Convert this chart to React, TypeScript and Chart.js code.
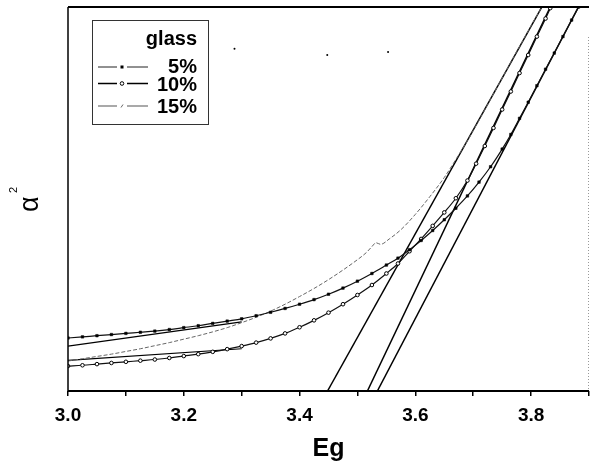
import { useEffect, useRef } from 'react';
import { Chart, registerables } from 'chart.js';

Chart.register(...registerables);

const FONT = "'Liberation Sans', Arial, sans-serif";

// x axis (Eg) tick labels
const xTickLabels = ['3.0', '3.2', '3.4', '3.6', '3.8'];

// glass 5 %
const g5X = [3.0, 3.025, 3.05, 3.075, 3.1, 3.125, 3.15, 3.175, 3.2, 3.225, 3.25, 3.275, 3.3, 3.325, 3.35, 3.375, 3.4, 3.425, 3.45, 3.475, 3.5, 3.525, 3.55, 3.57, 3.59, 3.61, 3.63, 3.65, 3.67, 3.69, 3.71, 3.73, 3.75, 3.765, 3.78, 3.795, 3.81, 3.825, 3.84, 3.855, 3.87, 3.882];
const g5Y = [13.8, 14.1, 14.4, 14.7, 15.0, 15.3, 15.6, 16.0, 16.5, 17.0, 17.6, 18.2, 18.8, 19.6, 20.5, 21.5, 22.6, 23.8, 25.2, 26.8, 28.6, 30.6, 32.8, 34.6, 36.8, 39.2, 41.8, 44.6, 47.6, 50.8, 54.4, 58.4, 63.0, 66.8, 71.0, 75.2, 79.5, 83.8, 88.0, 92.3, 96.6, 100];

// glass 10 %
const g10X = [3.0, 3.025, 3.05, 3.075, 3.1, 3.125, 3.15, 3.175, 3.2, 3.225, 3.25, 3.275, 3.3, 3.325, 3.35, 3.375, 3.4, 3.425, 3.45, 3.475, 3.5, 3.525, 3.55, 3.57, 3.59, 3.61, 3.63, 3.65, 3.67, 3.69, 3.705, 3.72, 3.735, 3.75, 3.765, 3.78, 3.795, 3.81, 3.825, 3.833];
const g10Y = [6.5, 6.7, 7.0, 7.3, 7.6, 7.9, 8.2, 8.6, 9.1, 9.6, 10.2, 10.9, 11.7, 12.6, 13.7, 15.0, 16.6, 18.4, 20.4, 22.6, 25.0, 27.6, 30.6, 33.2, 36.4, 39.6, 43.0, 46.5, 50.2, 54.8, 59.2, 63.8, 68.5, 73.3, 78.0, 82.8, 87.5, 92.3, 97.0, 99.7];

// glass 15 %
const g15X = [3.0, 3.025, 3.05, 3.075, 3.1, 3.125, 3.15, 3.175, 3.2, 3.225, 3.25, 3.275, 3.3, 3.325, 3.35, 3.375, 3.4, 3.425, 3.45, 3.475, 3.5, 3.515, 3.525, 3.532, 3.54, 3.555, 3.575, 3.6, 3.625, 3.65, 3.67, 3.69, 3.71, 3.73, 3.75, 3.77, 3.79, 3.805, 3.8186];
const g15Y = [7.8, 8.4, 9.0, 9.6, 10.3, 11.0, 11.8, 12.6, 13.5, 14.4, 15.4, 16.5, 17.8, 19.2, 20.8, 22.6, 24.6, 26.7, 29.0, 31.5, 34.2, 36.0, 37.6, 38.6, 38.2, 39.6, 42.0, 46.0, 50.6, 55.6, 60.3, 65.2, 70.5, 76.0, 81.5, 87.0, 92.4, 96.5, 100];

// linear fits (band-gap extrapolation)
const fit1X = [3.4483, 3.8186];
const fit1Y = [0, 100];
const fit2X = [3.5172, 3.8331];
const fit2Y = [0, 100];
const fit3X = [3.5344, 3.8818];
const fit3Y = [0, 100];

// low-energy straight segments
const tail1X = [3.0, 3.3];
const tail1Y = [11.7, 18.0];
const tail2X = [3.0, 3.3];
const tail2Y = [8.0, 11.0];

// stray specks in the plot
const speckX = [3.2876, 3.4478, 3.5529];
const speckY = [89.1, 87.5, 88.3];

const legendLabels = ['5%', '10%', '15%'];
const legendTitle = 'glass';

const pts = (xs: number[], ys: number[]) => xs.map((x, i) => ({ x, y: ys[i] }));

export default function App() {
  const ref = useRef<HTMLCanvasElement | null>(null);

  useEffect(() => {
    if (!ref.current) return;

    const framePlugin = {
      id: 'frameAndLegend',
      afterDraw(chart: any) {
        const { ctx, chartArea: ca } = chart;
        ctx.save();
        // frame
        ctx.strokeStyle = '#000';
        ctx.lineWidth = 2;
        ctx.beginPath();
        ctx.moveTo(ca.left, ca.top);
        ctx.lineTo(ca.right, ca.top);
        ctx.stroke();
        ctx.beginPath();
        ctx.moveTo(ca.left, ca.bottom);
        ctx.lineTo(ca.right, ca.bottom);
        ctx.stroke();
        ctx.lineWidth = 1.5;
        ctx.beginPath();
        ctx.moveTo(ca.left, ca.top);
        ctx.lineTo(ca.left, ca.bottom);
        ctx.stroke();
        ctx.strokeStyle = '#999';
        ctx.lineWidth = 1;
        ctx.setLineDash([1, 2]);
        ctx.beginPath();
        ctx.moveTo(ca.right - 0.5, ca.top + 30);
        ctx.lineTo(ca.right - 0.5, ca.bottom);
        ctx.stroke();
        ctx.setLineDash([]);

        // legend box
        const bx = ca.left + 24;
        const by = ca.top + 13;
        ctx.strokeStyle = '#333';
        ctx.lineWidth = 1;
        ctx.strokeRect(bx + 0.5, by + 0.5, 116, 104);
        ctx.fillStyle = '#000';
        ctx.font = `bold 20px ${FONT}`;
        ctx.textAlign = 'right';
        ctx.textBaseline = 'alphabetic';
        const tx = bx + 105;
        ctx.fillText(legendTitle, tx, by + 25);
        const rows = [by + 53, by + 71, by + 93];
        const lineYs = [by + 47, by + 63.5, by + 86];
        legendLabels.forEach((lab, i) => {
          ctx.fillStyle = '#000';
          ctx.fillText(lab, tx, rows[i]);
          const ly = lineYs[i];
          ctx.beginPath();
          if (i === 0) {
            ctx.strokeStyle = '#222';
            ctx.lineWidth = 1;
          } else if (i === 1) {
            ctx.strokeStyle = '#000';
            ctx.lineWidth = 1.5;
          } else {
            ctx.strokeStyle = '#555';
            ctx.lineWidth = 1.2;
          }
          ctx.moveTo(bx + 6, ly);
          ctx.lineTo(bx + 25, ly);
          ctx.moveTo(bx + 35, ly);
          ctx.lineTo(bx + 56, ly);
          ctx.stroke();
          const mx = bx + 30;
          if (i === 0) {
            ctx.fillStyle = '#000';
            ctx.fillRect(mx - 1.5, ly - 1.5, 3, 3);
          } else if (i === 1) {
            ctx.beginPath();
            ctx.arc(mx, ly, 1.8, 0, Math.PI * 2);
            ctx.fillStyle = '#fff';
            ctx.fill();
            ctx.strokeStyle = '#000';
            ctx.lineWidth = 1;
            ctx.stroke();
          } else {
            ctx.beginPath();
            ctx.strokeStyle = '#666';
            ctx.lineWidth = 1;
            ctx.moveTo(mx - 1, ly + 1.5);
            ctx.lineTo(mx + 1, ly - 1.5);
            ctx.stroke();
          }
        });

        // y axis title  alpha^2
        ctx.translate(38, 212);
        ctx.rotate(-Math.PI / 2);
        ctx.fillStyle = '#000';
        ctx.textAlign = 'left';
        ctx.textBaseline = 'alphabetic';
        ctx.font = `27px ${FONT}`;
        ctx.fillText('\u03b1', 0, 0);
        ctx.font = `11px ${FONT}`;
        ctx.fillText('2', 19, -21);
        ctx.restore();
      },
    };

    const chart = new Chart(ref.current, {
      type: 'line',
      data: {
        datasets: [
          {
            label: '5%',
            data: pts(g5X, g5Y),
            borderColor: '#111',
            borderWidth: 1.2,
            pointStyle: 'rect',
            pointRadius: 1.8,
            pointBackgroundColor: '#000',
            pointBorderColor: '#000',
            pointBorderWidth: 0.5,
            cubicInterpolationMode: 'monotone',
          },
          {
            label: '10%',
            data: pts(g10X, g10Y),
            borderColor: '#111',
            borderWidth: 1.2,
            pointStyle: 'circle',
            pointRadius: 1.8,
            pointBackgroundColor: '#fff',
            pointBorderColor: '#000',
            pointBorderWidth: 1,
            cubicInterpolationMode: 'monotone',
          },
          {
            label: '15%',
            data: pts(g15X, g15Y),
            borderColor: '#666',
            borderWidth: 1,
            borderDash: [4, 2],
            pointRadius: 0,
            cubicInterpolationMode: 'monotone',
          },
          { label: 'fit1', data: pts(fit1X, fit1Y), borderColor: '#000', borderWidth: 1.5, pointRadius: 0 },
          { label: 'fit2', data: pts(fit2X, fit2Y), borderColor: '#000', borderWidth: 1.5, pointRadius: 0 },
          { label: 'fit3', data: pts(fit3X, fit3Y), borderColor: '#000', borderWidth: 1.5, pointRadius: 0 },
          { label: 'tail1', data: pts(tail1X, tail1Y), borderColor: '#000', borderWidth: 1.2, pointRadius: 0 },
          { label: 'tail2', data: pts(tail2X, tail2Y), borderColor: '#000', borderWidth: 1.2, pointRadius: 0 },
          {
            label: 'specks',
            data: pts(speckX, speckY),
            showLine: false,
            pointRadius: 1,
            pointBackgroundColor: '#000',
            pointBorderWidth: 0,
          },
        ],
      },
      options: {
        animation: false,
        responsive: true,
        maintainAspectRatio: false,
        layout: { autoPadding: false, padding: { top: 7, right: 1, left: 0, bottom: 0 } },
        plugins: { legend: { display: false }, tooltip: { enabled: false } },
        scales: {
          x: {
            type: 'linear',
            min: 3.0,
            max: 3.9,
            afterFit: (s: any) => {
              s.height = 84;
              s.paddingLeft = 0;
              s.paddingRight = 0;
            },
            ticks: {
              stepSize: 0.1,
              includeBounds: false,
              autoSkip: false,
              maxRotation: 0,
              padding: 8,
              color: '#000',
              font: { family: FONT, size: 19, weight: 'bold' },
              callback: (v: any) => {
                const s = Number(v).toFixed(1);
                return xTickLabels.includes(s) ? s : '';
              },
            },
            grid: { drawOnChartArea: false, drawTicks: true, tickLength: 5, color: '#000', lineWidth: 1.5 },
            border: { display: false },
            title: {
              display: true,
              text: 'Eg',
              color: '#000',
              font: { family: FONT, size: 25, weight: 'bold' },
              padding: { top: 0, bottom: 11 },
            },
          },
          y: {
            type: 'linear',
            min: 0,
            max: 100,
            afterFit: (s: any) => {
              s.width = 68;
            },
            ticks: { display: false },
            grid: { display: false },
            border: { display: false },
          },
        },
      },
      plugins: [framePlugin],
    } as any);

    return () => chart.destroy();
  }, []);

  return (
    <div style={{ position: 'fixed', left: 0, top: 0, width: 590, height: 475, background: '#fff' }}>
      <canvas ref={ref} />
    </div>
  );
}
